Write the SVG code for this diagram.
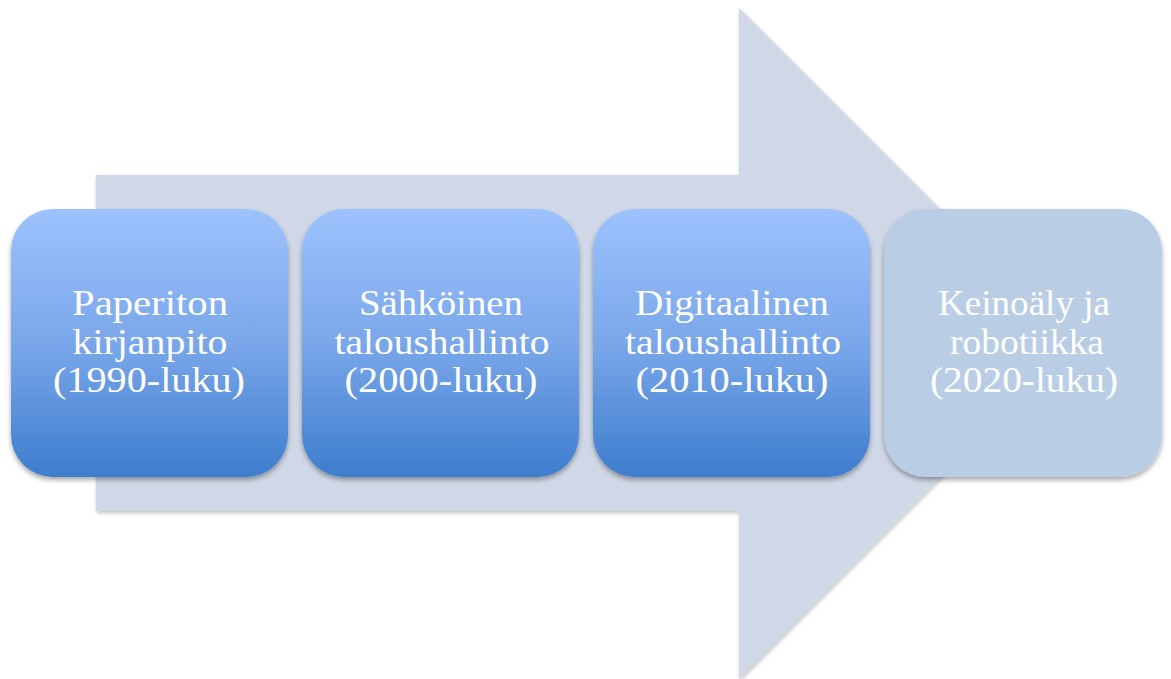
<svg xmlns="http://www.w3.org/2000/svg" width="1171" height="679" viewBox="0 0 1171 679">
<defs>
<linearGradient id="g" x1="0" y1="0" x2="0" y2="1">
<stop offset="0" stop-color="#9dc2fd"/>
<stop offset="0.5" stop-color="#7aa7ea"/>
<stop offset="1" stop-color="#3d7dcd"/>
</linearGradient>
<filter id="sh" x="-10%" y="-10%" width="120%" height="120%">
<feGaussianBlur in="SourceAlpha" stdDeviation="2.5"/>
<feOffset dx="0" dy="3" result="b"/>
<feComponentTransfer><feFuncA type="linear" slope="0.35"/></feComponentTransfer>
<feMerge><feMergeNode/><feMergeNode in="SourceGraphic"/></feMerge>
</filter>
<filter id="sh2" x="-10%" y="-10%" width="120%" height="120%">
<feGaussianBlur in="SourceAlpha" stdDeviation="2"/>
<feOffset dx="1" dy="2" result="b"/>
<feComponentTransfer><feFuncA type="linear" slope="0.25"/></feComponentTransfer>
<feMerge><feMergeNode/><feMergeNode in="SourceGraphic"/></feMerge>
</filter>
</defs>
<style>
.box{fill:url(#g);filter:url(#sh)}
.box4{fill:#b9cde4;filter:url(#sh)}
.t{font-family:"Liberation Serif","DejaVu Serif",serif;font-size:35px;fill:#ffffff;text-anchor:middle}
</style>
<g id="arrow">
<polygon points="96,175 739,175 739,8 1074,343 739,679 739,511 96,511" fill="#d0d8e7" filter="url(#sh2)"/>
</g>
<g id="node1">
<rect class="box" x="11" y="209" width="277" height="268" rx="42"/>
<text class="t" x="150" y="315" textLength="156" lengthAdjust="spacingAndGlyphs">Paperiton</text>
<text class="t" x="150" y="354" textLength="155" lengthAdjust="spacingAndGlyphs">kirjanpito</text>
<text class="t" x="149" y="392" textLength="192" lengthAdjust="spacingAndGlyphs">(1990-luku)</text>
</g>
<g id="node2">
<rect class="box" x="302" y="209" width="277" height="268" rx="42"/>
<text class="t" x="441" y="315" textLength="164" lengthAdjust="spacingAndGlyphs">Sähköinen</text>
<text class="t" x="442" y="354" textLength="215" lengthAdjust="spacingAndGlyphs">taloushallinto</text>
<text class="t" x="441" y="392" textLength="193" lengthAdjust="spacingAndGlyphs">(2000-luku)</text>
</g>
<g id="node3">
<rect class="box" x="593" y="209" width="277" height="268" rx="42"/>
<text class="t" x="732" y="315" textLength="194" lengthAdjust="spacingAndGlyphs">Digitaalinen</text>
<text class="t" x="733" y="354" textLength="216" lengthAdjust="spacingAndGlyphs">taloushallinto</text>
<text class="t" x="732" y="392" textLength="193" lengthAdjust="spacingAndGlyphs">(2010-luku)</text>
</g>
<g id="node4">
<rect class="box4" x="884" y="209" width="278" height="268" rx="42"/>
<text class="t" x="1024" y="315" textLength="172" lengthAdjust="spacingAndGlyphs">Keinoäly ja</text>
<text class="t" x="1027" y="354" textLength="154" lengthAdjust="spacingAndGlyphs">robotiikka</text>
<text class="t" x="1024" y="392" textLength="188" lengthAdjust="spacingAndGlyphs">(2020-luku)</text>
</g>
<g id="connectors"></g>
</svg>
